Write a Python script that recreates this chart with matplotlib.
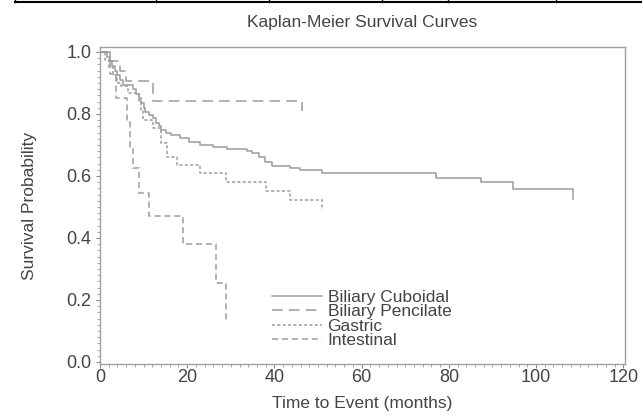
import matplotlib
matplotlib.use("Agg")
import matplotlib.pyplot as plt
from matplotlib.lines import Line2D
from matplotlib.ticker import MultipleLocator

plt.rcParams['font.family'] = ['Liberation Sans', 'DejaVu Sans']

# ---- data ----
cub_t = [0, 1.5, 2.2, 2.8, 3.4, 4.0, 4.6, 5.3, 7.6, 8.2, 9.0, 9.5, 10.0, 10.4, 11.3,
         12.2, 12.8, 13.5, 14.1, 15.2, 16.3, 18.3, 20.3, 22.9, 26.0, 29.1, 33.6,
         34.8, 36.5, 37.8, 39.4, 43.6, 45.9, 50.9, 77.0, 87.4, 94.6, 108.4]
cub_s = [1.0, 0.985, 0.97, 0.955, 0.94, 0.925, 0.91, 0.894, 0.88, 0.865, 0.851, 0.835,
         0.82, 0.807, 0.797, 0.786, 0.772, 0.76, 0.748, 0.74, 0.732, 0.721, 0.711,
         0.700, 0.695, 0.687, 0.681, 0.673, 0.660, 0.646, 0.632, 0.625, 0.619,
         0.609, 0.595, 0.579, 0.557, 0.525]

pen_t = [0, 2.3, 4.5, 6.0, 12.2, 46.3]
pen_s = [1.0, 0.972, 0.937, 0.907, 0.843, 0.81]

gas_t = [0, 1.2, 2.0, 3.0, 4.0, 4.8, 6.5, 9.0, 9.4, 9.8, 12.2, 14.1, 15.4, 17.7,
         22.9, 28.9, 38.0, 43.6, 51.0]
gas_s = [1.0, 0.975, 0.95, 0.925, 0.9, 0.89, 0.867, 0.84, 0.81, 0.78, 0.754, 0.705,
         0.662, 0.635, 0.608, 0.582, 0.552, 0.523, 0.49]

int_t = [0, 2.3, 3.6, 6.3, 6.8, 7.6, 9.0, 11.2, 19.1, 26.6, 29.0]
int_s = [1.0, 0.93, 0.85, 0.775, 0.695, 0.625, 0.544, 0.471, 0.381, 0.254, 0.135]

labels = ["Biliary Cuboidal", "Biliary Pencilate", "Gastric", "Intestinal"]
x_ticks = [0, 20, 40, 60, 80, 100, 120]
y_ticks = [0.0, 0.2, 0.4, 0.6, 0.8, 1.0]

# ---- figure ----
fig = plt.figure(figsize=(6.42, 4.18), dpi=100)
ax = fig.add_axes([100/642, 54/418, 525/642, 317/418])

line_col = '#9c9c9c'
styles = [
    dict(linestyle='-'),
    dict(linestyle=(0, (7, 4))),
    dict(linestyle=(0, (2, 1.5))),
    dict(linestyle=(0, (4, 2.5))),
]
series = [(cub_t, cub_s), (pen_t, pen_s), (gas_t, gas_s), (int_t, int_s)]
for (t, s), st, lab in zip(series, styles, labels):
    ax.step(t, s, where='post', color=line_col, linewidth=1.1, label=lab, **st)

ax.set_xlim(0, 120.4)
ax.set_ylim(-0.0065, 1.016)
ax.set_xticks(x_ticks)
ax.set_yticks(y_ticks)
ax.set_yticklabels([f"{v:.1f}" for v in y_ticks])
ax.xaxis.set_minor_locator(MultipleLocator(2))
ax.yaxis.set_minor_locator(MultipleLocator(0.02))
ax.tick_params(axis='both', which='major', length=3, width=0.8, color='#888888',
               labelsize=13, labelcolor='#444444')
ax.tick_params(axis='x', which='major', pad=0.5)
ax.tick_params(axis='y', which='major', pad=3)
ax.tick_params(axis='both', which='minor', length=2, width=0.6, color='#999999')
for sp in ax.spines.values():
    sp.set_color('#a0a0a0')
    sp.set_linewidth(1.0)

ax.set_xlabel("Time to Event (months)", fontsize=12.5, color='#444444', labelpad=7)
ax.set_ylabel("Survival Probability", fontsize=12.5, color='#444444', labelpad=21)
fig.text(362/642, 1 - 22/418, "Kaplan-Meier Survival Curves", ha='center', va='center',
         fontsize=12.5, color='#444444')

leg = ax.legend(loc='upper left', bbox_to_anchor=((272 - 100)/525, (364 - 290)/317),
                frameon=False, fontsize=12.5, labelspacing=-0.05, handlelength=2.9,
                handletextpad=0.3, borderpad=0, borderaxespad=0)
for txt in leg.get_texts():
    txt.set_color('#444444')

# table border fragment at the very top
fig.add_artist(Line2D([15/642, 1], [1 - 1.5/418, 1 - 1.5/418], transform=fig.transFigure,
                      color='black', linewidth=1.5))
for xp in [15, 156, 269, 382, 448, 556]:
    fig.add_artist(Line2D([xp/642, xp/642], [1, 1 - 1.5/418], transform=fig.transFigure,
                          color='black', linewidth=1.0))

fig.savefig("out.png", dpi=100)
